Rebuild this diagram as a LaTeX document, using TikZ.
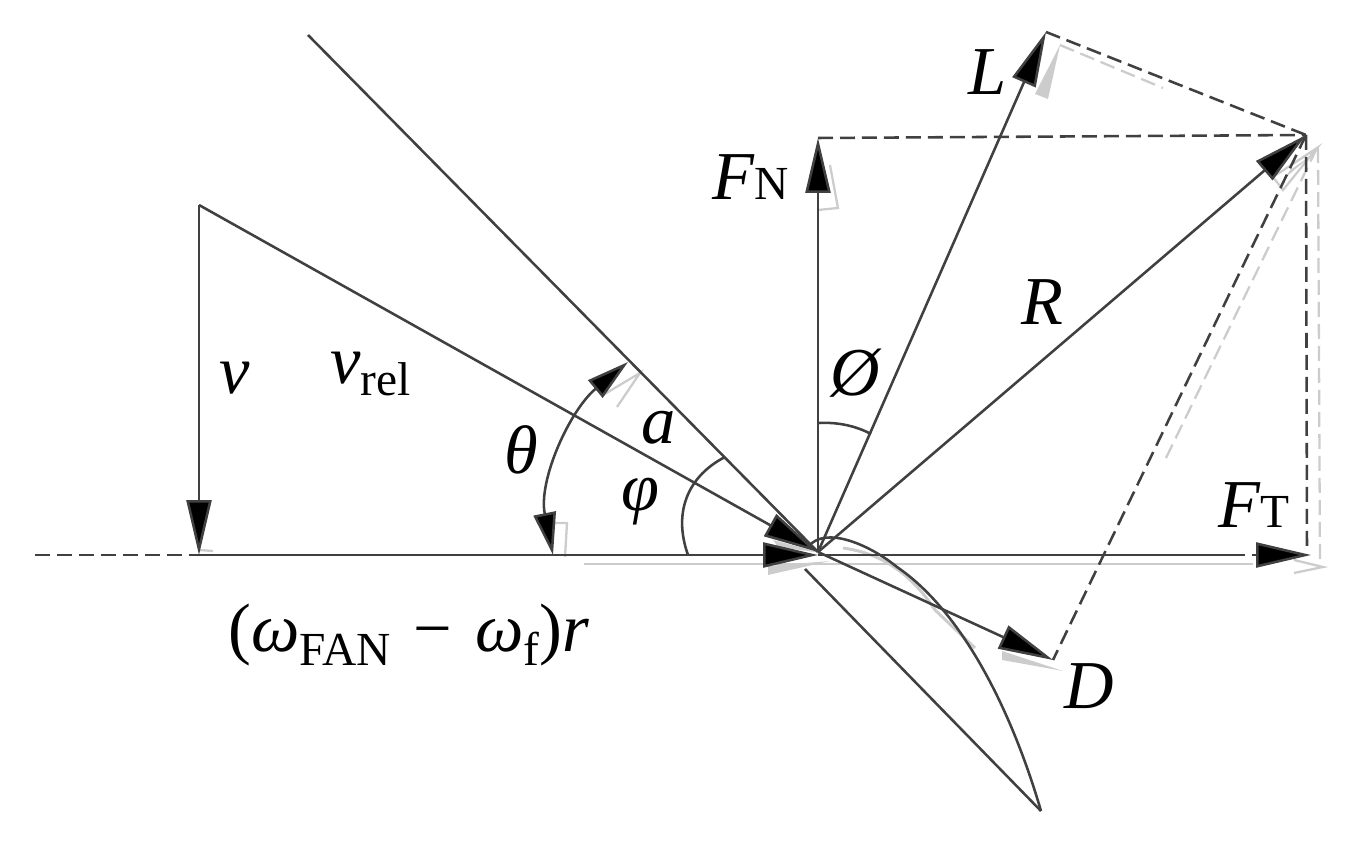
\documentclass[tikz,border=0pt]{standalone}
\usepackage{xcolor}
\usepackage{fontspec}
\setmainfont{Liberation Serif}
\usetikzlibrary{arrows.meta}
\definecolor{inkline}{RGB}{64,64,64}
\definecolor{ghostgray}{RGB}{204,204,204}
\newcommand{\bigsize}{\fontsize{39}{39}\selectfont}
\newcommand{\subsize}{\fontsize{27}{27}\selectfont}

\begin{document}
\begin{tikzpicture}[
    x=0.02cm, y=-0.02cm,
    plain/.style={draw=inkline, line width=1.45pt},
    force/.style={plain, -{Triangle[length=1.1cm, width=0.5cm, fill=black]}},
    bothforce/.style={plain, {Triangle[length=0.85cm, width=0.45cm, fill=black]}-{Triangle[length=0.85cm, width=0.45cm, fill=black]}},
    guide/.style={plain, dash pattern=on 0.3cm off 0.14cm},
    ghostline/.style={draw=ghostgray, line width=1.3pt},
    ghostdash/.style={ghostline, dash pattern=on 0.3cm off 0.14cm},
    ghostfill/.style={fill=ghostgray},
    label/.style={inner sep=0pt, text=black, font=\bigsize}
]
    \useasboundingbox (0,0) rectangle (1347,844);

    % points of the force diagram
    \coordinate (O) at (818,552);
    \coordinate (Obase) at (818,555);
    \coordinate (W) at (199,555);
    \coordinate (Wend) at (35,555);
    \coordinate (Vtop) at (199,205);
    \coordinate (Bladetop) at (308,35);
    \coordinate (Bladelow) at (805,569);
    \coordinate (Bladetip) at (1041,811);
    \coordinate (Ltip) at (1046,32);
    \coordinate (Rtip) at (1306,135);
    \coordinate (Ntip) at (818,138);
    \coordinate (Tgap) at (1245,555);
    \coordinate (Tbase) at (1252,555);
    \coordinate (Ttip) at (1311,555);
    \coordinate (Tcorner) at (1307,552);
    \coordinate (Dtip) at (1053,660);

    % pale offset copy underneath
    \draw[ghostline, line width=1.7pt] (584,564) -- (1253,564);
    \draw[ghostdash] (1060,45) -- (1163,88);
    \draw[ghostdash] (1317,148) -- (1165,460);
    \draw[ghostdash] (1318,148) -- (1320,567);
    \draw[ghostline] (1294,560) -- (1323,567) -- (1294,573);
    \draw[ghostline] (1283,190) -- (1273,177) -- (1317,148) -- cycle;
    \draw[ghostline] (830,165) -- (838,208) -- (818,210);
    \draw[ghostline] (603,395) -- (640,373) -- (617,407);
    \draw[ghostline] (555,523) -- (567,523) -- (565,557);
    \draw[ghostline] (199,550) -- (213,551);
    \fill[ghostfill] (1060,45) -- (1035,94) -- (1048,99) -- cycle;
    \fill[ghostfill] (1312,155) -- (1290,170) -- (1285,178) -- cycle;
    \fill[ghostfill] (773,540) -- (778,547) -- (822,553) -- cycle;
    \fill[ghostfill] (768,566) -- (768,575) -- (830,561) -- cycle;
    \fill[ghostfill] (1002,651) -- (1002,660) -- (1063,671) -- cycle;
    \draw[ghostline, line width=1.7pt] (843,548) .. controls (880,553) and (910,572) .. (935,610) -- (975,648);

    % lines
    \draw[guide] (Wend) -- (W);
    \draw[force] (Vtop) -- (W);
    \draw[force] (Vtop) -- (O);
    \draw[force] (W) -- (Obase);
    \draw[plain] (Bladetop) -- (O);
    \draw[plain] (Bladelow) -- (Bladetip);
    \draw[plain] (Bladetip) .. controls (1010,705) and (960,610) .. (897,567)
        .. controls (870,545) and (825,525) .. (808,547);

    \draw[force] (O) -- (Ltip);
    \draw[force] (O) -- (Rtip);
    \draw[force] (O) -- (Ntip);
    \draw[force] (O) -- (Dtip);
    \draw[plain] (Obase) -- (Tgap);
    \draw[force] (Tbase) -- (Ttip);

    \draw[guide] (Ntip) -- (Rtip);
    \draw[guide] (Ltip) -- (Rtip);
    \draw[guide] (Rtip) -- (Tcorner);
    \draw[guide] (Rtip) -- (Dtip);

    % angle marks
    \draw[bothforce] (553,555) .. controls (538,480) and (570,410) .. (628,362);
    \draw[plain] (688,555) .. controls (672,510) and (690,475) .. (725,457);
    \draw[plain] (819,423) .. controls (838,422) and (856,426) .. (871,434);

    % labels
    \node[label] (Llabel) at (988,72) {\itshape L};
    \node[label, anchor=base west] (Nlabel) at (712,200) {\itshape F\/\subsize\upshape N};
    \node[label] (Rlabel) at (1042,302) {\itshape R};
    \node[label] (Philabel) at (855,373) {\itshape Ø};
    \node[label] (Vlabel) at (235,378) {\itshape v};
    \node[label, anchor=base west] (Vrellabel) at (330,384) {\itshape v\subsize\upshape\raisebox{-0.25em}{rel}};
    \node[label] (Thetalabel) at (521,450) {\itshape θ};
    \node[label] (Alabel) at (659,428) {\itshape a};
    \node[label] (Varphilabel) at (640,502) {\itshape φ};
    \node[label, anchor=base west] (Tlabel) at (1218,528) {\itshape F\/\subsize\upshape T};
    \node[label] (Dlabel) at (1089,686) {\itshape D};
    \node[label, anchor=base west] (Speedlabel) at (228,652)
        {({\itshape ω}\raisebox{-0.2em}{\subsize FAN}\,\,−\,\,{\itshape ω}\raisebox{-0.2em}{\subsize f}){\itshape r}};
\end{tikzpicture}
\end{document}
